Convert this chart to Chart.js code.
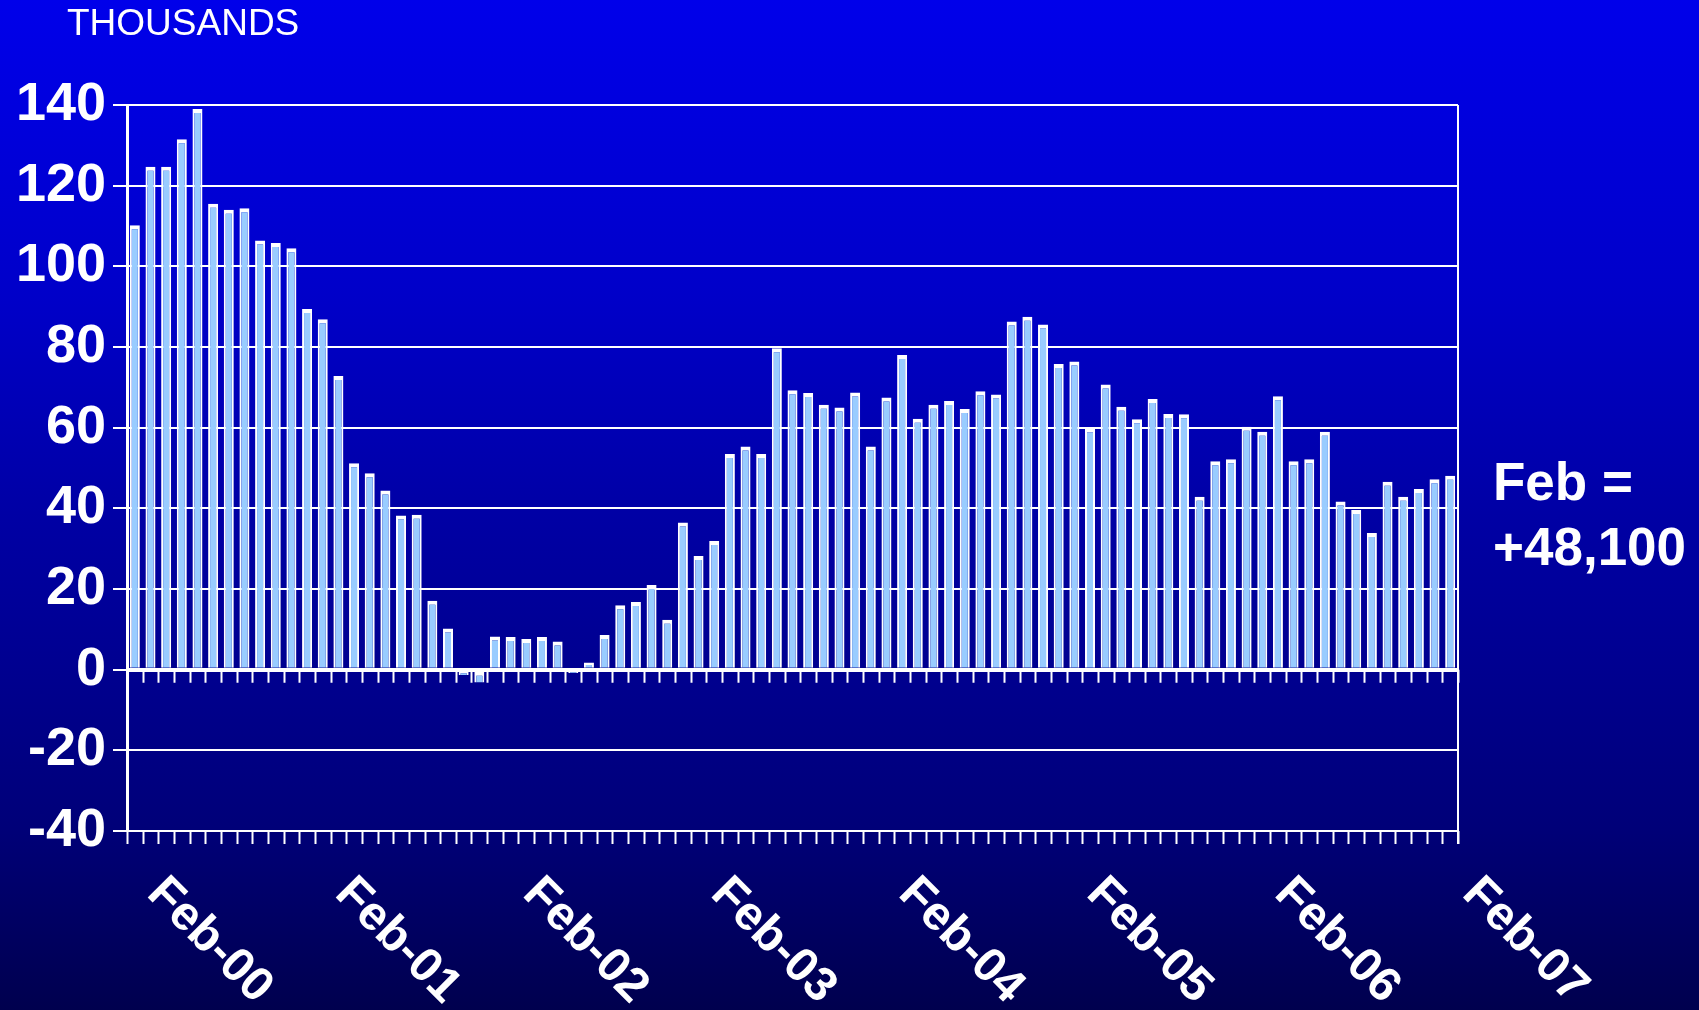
<!DOCTYPE html>
<html>
<head>
<meta charset="utf-8">
<title>Thousands - monthly change</title>
<script src="https://cdn.jsdelivr.net/npm/chart.js@4.4.1/dist/chart.umd.min.js"></script>
<style>
    html, body {
        margin: 0;
        padding: 0;
        overflow: hidden;
    }
    body {
        width: 1699px;
        height: 1010px;
        background: linear-gradient(to bottom, #0000ea 0%, #0000c8 30%, #0000a6 50%, #000090 66%, #000078 82%, #00004e 100%);
    }
    canvas {
        display: block;
    }
</style>
</head>
<body>
<canvas id="jobs-chart" width="1699" height="1010"></canvas>
<script>
// Months Feb-00 .. Feb-07
const categories = [
    'Feb-00', 'Mar-00', 'Apr-00', 'May-00', 'Jun-00', 'Jul-00', 'Aug-00', 'Sep-00', 'Oct-00', 'Nov-00', 'Dec-00', 'Jan-01',
    'Feb-01', 'Mar-01', 'Apr-01', 'May-01', 'Jun-01', 'Jul-01', 'Aug-01', 'Sep-01', 'Oct-01', 'Nov-01', 'Dec-01', 'Jan-02',
    'Feb-02', 'Mar-02', 'Apr-02', 'May-02', 'Jun-02', 'Jul-02', 'Aug-02', 'Sep-02', 'Oct-02', 'Nov-02', 'Dec-02', 'Jan-03',
    'Feb-03', 'Mar-03', 'Apr-03', 'May-03', 'Jun-03', 'Jul-03', 'Aug-03', 'Sep-03', 'Oct-03', 'Nov-03', 'Dec-03', 'Jan-04',
    'Feb-04', 'Mar-04', 'Apr-04', 'May-04', 'Jun-04', 'Jul-04', 'Aug-04', 'Sep-04', 'Oct-04', 'Nov-04', 'Dec-04', 'Jan-05',
    'Feb-05', 'Mar-05', 'Apr-05', 'May-05', 'Jun-05', 'Jul-05', 'Aug-05', 'Sep-05', 'Oct-05', 'Nov-05', 'Dec-05', 'Jan-06',
    'Feb-06', 'Mar-06', 'Apr-06', 'May-06', 'Jun-06', 'Jul-06', 'Aug-06', 'Sep-06', 'Oct-06', 'Nov-06', 'Dec-06', 'Jan-07',
    'Feb-07'
];

// Change in thousands
const jobChange = [
    110.2, 124.7, 124.7, 131.5, 139.0, 115.5, 114.0, 114.4, 106.4, 105.8, 104.5, 89.4,
    86.9, 72.8, 51.2, 48.7, 44.4, 38.2, 38.4, 17.1, 10.2, -1.3, -3.2, 8.2,
    8.1, 7.6, 8.1, 7.0, -0.8, 1.8, 8.6, 16.0, 16.8, 21.0, 12.4, 36.5,
    28.2, 31.9, 53.5, 55.3, 53.5, 79.7, 69.3, 68.6, 65.7, 65.0, 68.7, 55.3,
    67.5, 78.0, 62.2, 65.7, 66.6, 64.6, 69.0, 68.2, 86.3, 87.5, 85.6, 75.8,
    76.4, 59.8, 70.7, 65.2, 62.1, 67.1, 63.4, 63.3, 42.9, 51.7, 52.2, 60.2,
    59.0, 67.8, 51.7, 52.2, 59.0, 41.7, 39.6, 33.9, 46.6, 42.9, 44.8, 47.2,
    48.1
];

// Only these categories get a label under the axis
const tickLabels = ['Feb-00', 'Feb-01', 'Feb-02', 'Feb-03', 'Feb-04', 'Feb-05', 'Feb-06', 'Feb-07'];

const unitsLabel = 'THOUSANDS';
const noteLines = ['Feb =', '+48,100'];

const FONT = '"Liberation Sans", Arial, sans-serif';

// Draws the extra axis bits Excel had: ticks under 0 and -40, slanted labels, notes
const decorPlugin = {
    id: 'decor',
    afterDraw(chart) {
        const ctx = chart.ctx;
        const area = chart.chartArea;
        const x = chart.scales.x;
        const y = chart.scales.y;
        const zeroY = y.getPixelForValue(0);

        ctx.save();
        ctx.strokeStyle = '#ffffff';

        // right frame line
        ctx.lineWidth = 2;
        ctx.beginPath();
        ctx.moveTo(area.right, area.top);
        ctx.lineTo(area.right, area.bottom + 13);
        ctx.stroke();

        // category tick marks under zero line and under bottom line
        ctx.lineWidth = 2;
        for (let i = 0; i <= categories.length; i++) {
            const px = Math.round(x.getPixelForValue(i - 0.5)) + 0.5;
            ctx.beginPath();
            ctx.moveTo(px, zeroY);
            ctx.lineTo(px, zeroY + 13);
            ctx.moveTo(px, area.bottom);
            ctx.lineTo(px, area.bottom + 13);
            ctx.stroke();
        }

        // slanted year labels
        ctx.fillStyle = '#ffffff';
        ctx.font = 'bold 48px ' + FONT;
        ctx.textAlign = 'left';
        ctx.textBaseline = 'middle';
        tickLabels.forEach(label => {
            const idx = categories.indexOf(label);
            const px = x.getPixelForValue(idx);
            ctx.save();
            ctx.translate(px + 20, area.bottom + 55);
            ctx.rotate(Math.PI / 4);
            ctx.fillText(label, 0, 0);
            ctx.restore();
        });

        // units label top left
        ctx.font = '37px ' + FONT;
        ctx.fillText(unitsLabel, 67, 25);

        // note on the right
        ctx.font = 'bold 53px ' + FONT;
        ctx.fillText(noteLines[0], 1493, 485);
        ctx.fillText(noteLines[1], 1493, 550);

        ctx.restore();
    }
};

const ctx = document.getElementById('jobs-chart').getContext('2d');
const jobsChart = new Chart(ctx, {
    type: 'bar',
    data: {
        labels: categories,
        datasets: [{
            label: 'Change (thousands)',
            data: jobChange,
            backgroundColor: '#99ccff',
            borderColor: '#ffffff',
            borderWidth: {top: 4, left: 2, right: 2, bottom: 0},
            borderSkipped: false,
            barPercentage: 0.64,
            categoryPercentage: 1.0
        }]
    },
    options: {
        responsive: false,
        devicePixelRatio: 1,
        animation: false,
        layout: {
            padding: {left: 0, right: 241, top: 105, bottom: 0}
        },
        plugins: {
            legend: {display: false},
            tooltip: {enabled: false},
            title: {display: false}
        },
        scales: {
            x: {
                offset: true,
                grid: {display: false},
                border: {display: false},
                ticks: {display: false},
                afterFit(scale) {
                    scale.height = 179;
                }
            },
            y: {
                min: -40,
                max: 140,
                ticks: {
                    stepSize: 20,
                    color: '#ffffff',
                    padding: 7,
                    font: {family: FONT, size: 54, weight: 'bold'}
                },
                grid: {
                    color: '#ffffff',
                    lineWidth: c => (c.tick && c.tick.value === 0 ? 4 : 2),
                    tickLength: 14,
                    tickColor: '#ffffff',
                    tickWidth: 2
                },
                border: {display: true, color: '#ffffff', width: 3},
                afterFit(scale) {
                    scale.width = 127;
                }
            }
        }
    },
    plugins: [decorPlugin]
});
</script>
</body>
</html>
